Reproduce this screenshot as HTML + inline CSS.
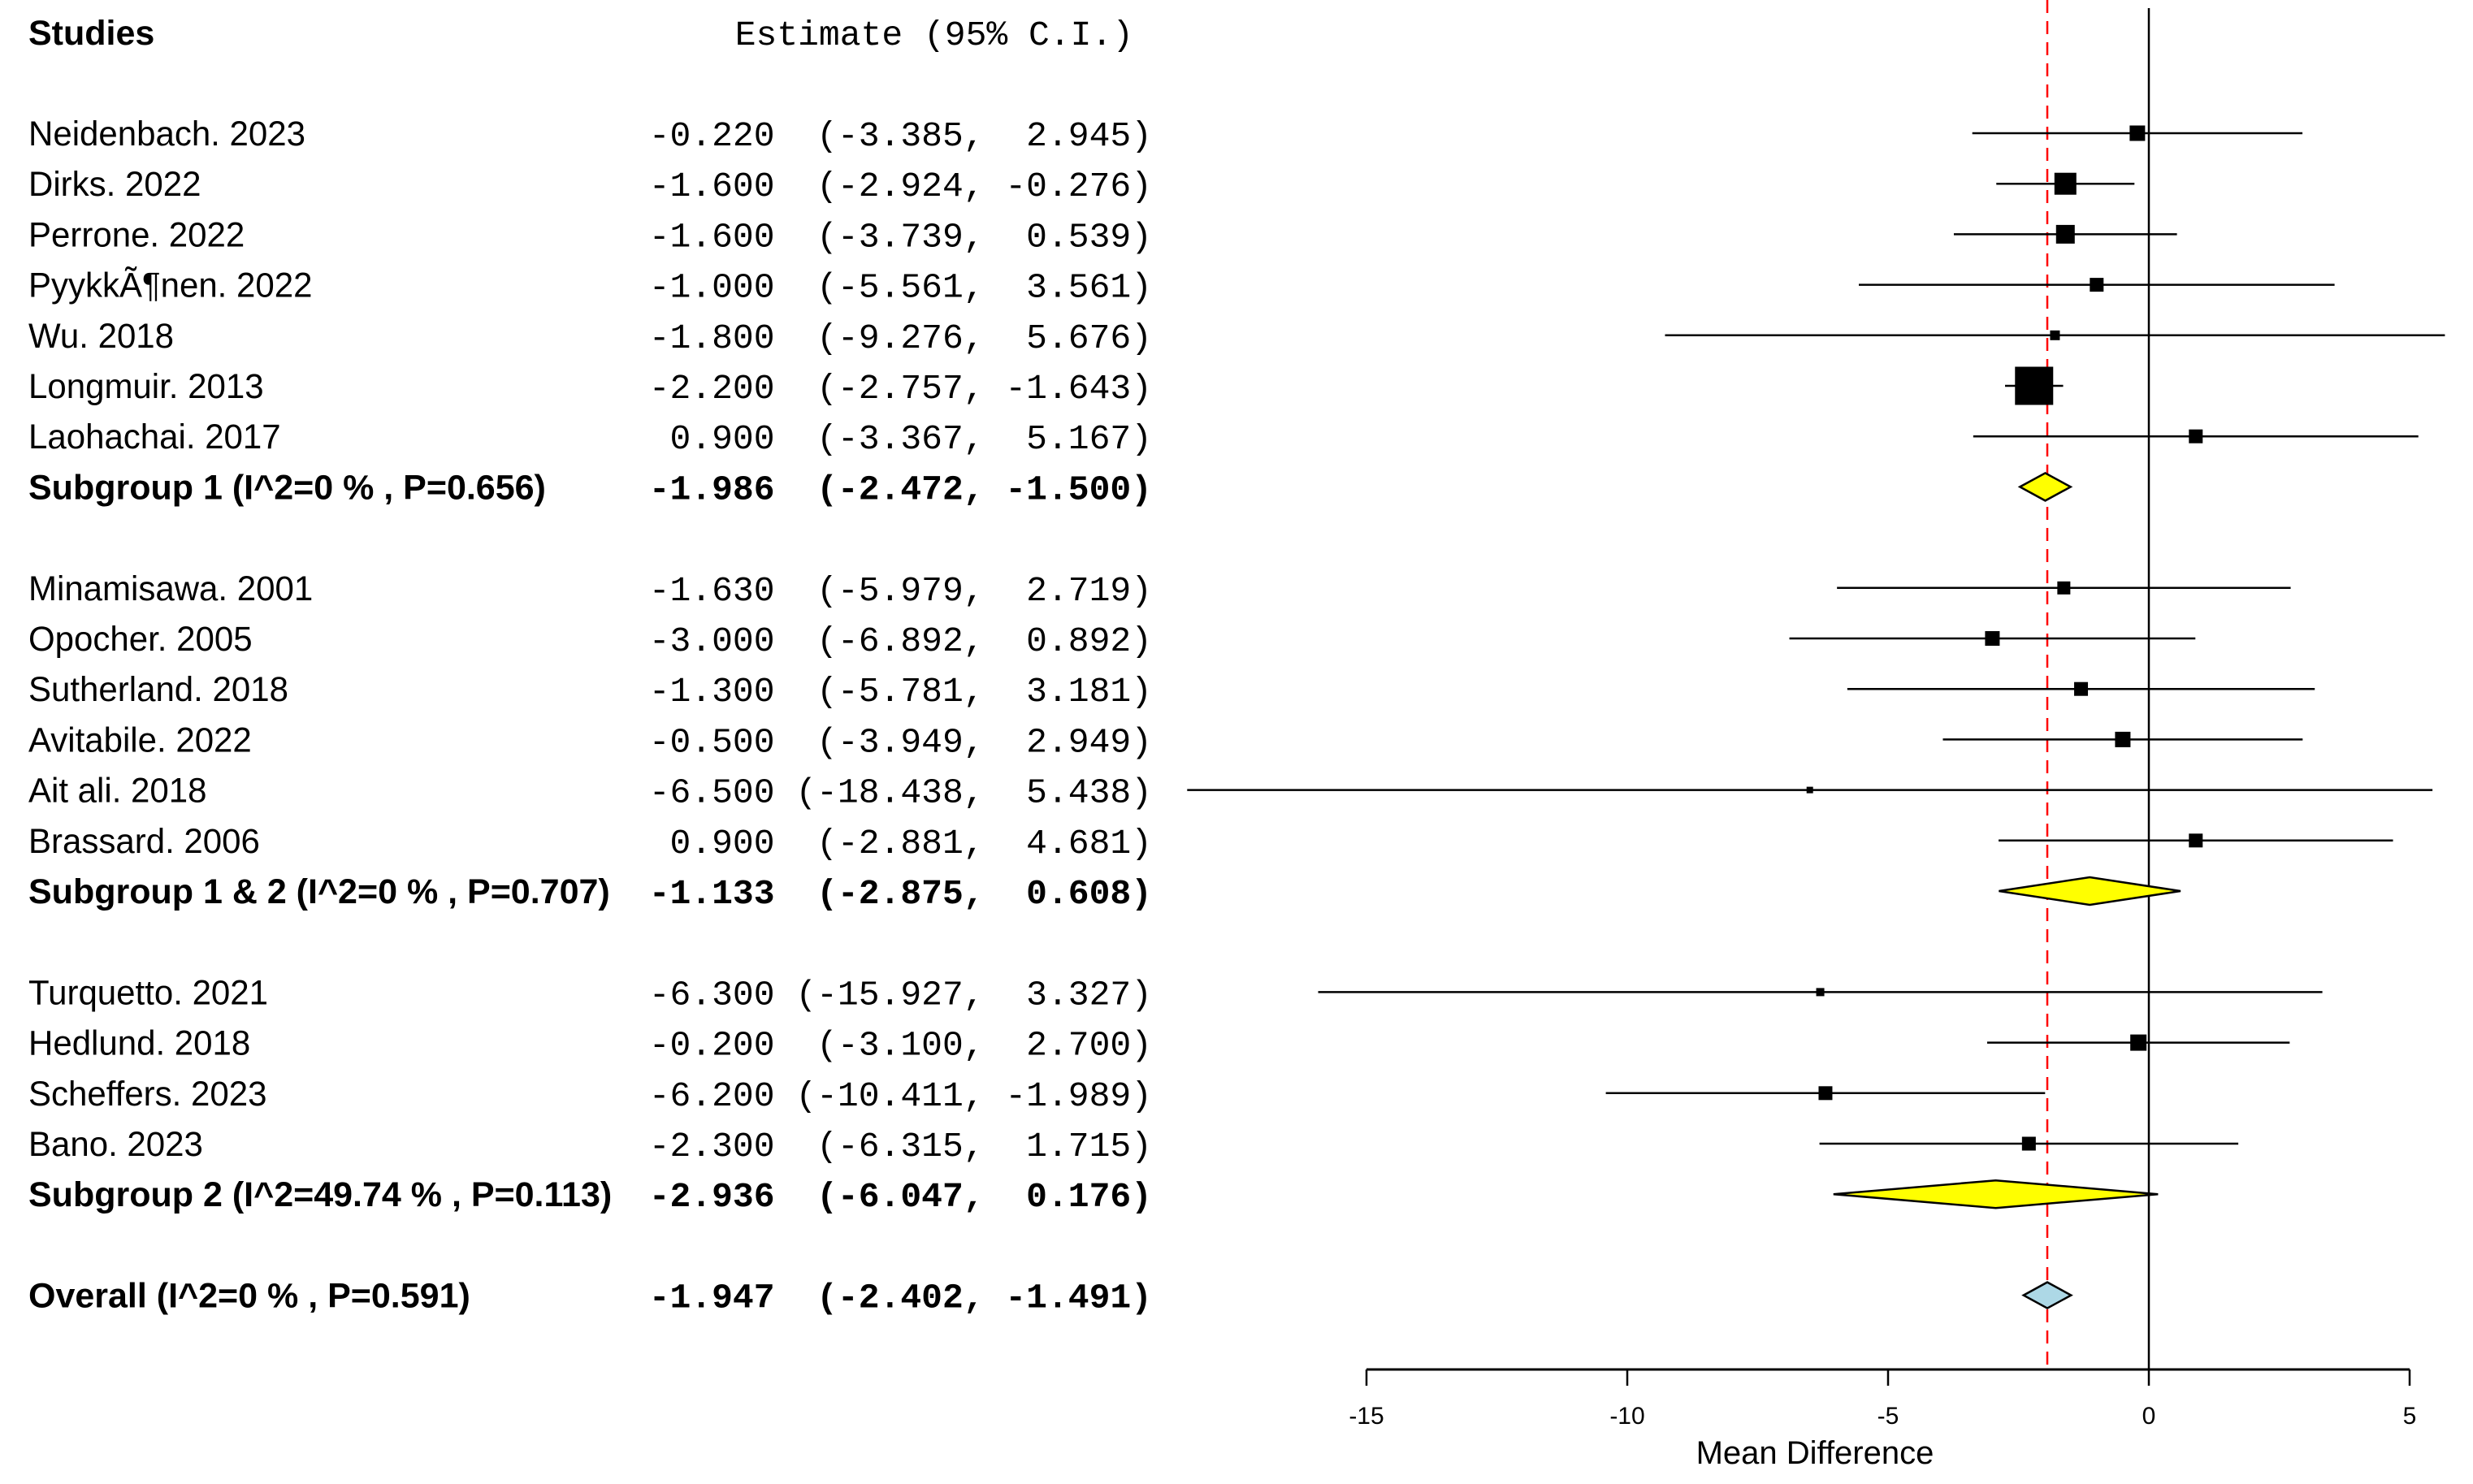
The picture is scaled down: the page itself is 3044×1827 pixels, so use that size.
<!DOCTYPE html>
<html><head><meta charset="utf-8"><style>
html,body{margin:0;padding:0;background:#fff;}
svg{display:block;}
.nm{font-family:"Liberation Sans",sans-serif;font-size:43px;fill:#000;}
.mo{font-family:"Liberation Mono",monospace;font-size:43px;fill:#000;white-space:pre;}
</style></head><body>
<svg id="plot" width="3044" height="1827" viewBox="0 0 3044 1827" xmlns="http://www.w3.org/2000/svg">
<g id="labels"></g>
<g id="marks"></g>
</svg>
<script>
const studyNames = ["Neidenbach. 2023","Dirks. 2022","Perrone. 2022","PyykkÃ¶nen. 2022","Wu. 2018","Longmuir. 2013","Laohachai. 2017","Subgroup 1 (I^2=0 % , P=0.656)","Minamisawa. 2001","Opocher. 2005","Sutherland. 2018","Avitabile. 2022","Ait ali. 2018","Brassard. 2006","Subgroup 1 & 2 (I^2=0 % , P=0.707)","Turquetto. 2021","Hedlund. 2018","Scheffers. 2023","Bano. 2023","Subgroup 2 (I^2=49.74 % , P=0.113)","Overall (I^2=0 % , P=0.591)"];
const rowSlots = [0,1,2,3,4,5,6,7,9,10,11,12,13,14,15,17,18,19,20,21,23];
const estimates = [-0.22,-1.6,-1.6,-1.0,-1.8,-2.2,0.9,-1.986,-1.63,-3.0,-1.3,-0.5,-6.5,0.9,-1.133,-6.3,-0.2,-6.2,-2.3,-2.936,-1.947];
const lowers = [-3.385,-2.924,-3.739,-5.561,-9.276,-2.757,-3.367,-2.472,-5.979,-6.892,-5.781,-3.949,-18.438,-2.881,-2.875,-15.927,-3.1,-10.411,-6.315,-6.047,-2.402];
const uppers = [2.945,-0.276,0.539,3.561,5.676,-1.643,5.167,-1.5,2.719,0.892,3.181,2.949,5.438,4.681,0.608,3.327,2.7,-1.989,1.715,0.176,-1.491];
const rowKinds = ["s","s","s","s","s","s","s","sub","s","s","s","s","s","s","sub","s","s","s","s","sub","all"];
const weights = [19,27,23,17,12,47,17,0,16,18,17,19,8,17,0,10,20,17,17,0,0];
const xTicks = [-15,-10,-5,0,5];

const NS="http://www.w3.org/2000/svg";
const X0=2645, UNIT=64.2;
function xs(v){return X0+v*UNIT;}
function ys(slot){return 164+slot*62.2;}
const L=document.getElementById('labels'), M=document.getElementById('marks');
function mk(tag,attrs,parent,text){const e=document.createElementNS(NS,tag);for(const k in attrs)e.setAttribute(k,attrs[k]);if(text!==undefined)e.textContent=text;parent.appendChild(e);return e;}
function pad(s,w){while(s.length<w)s=" "+s;return s;}

let h=mk('text',{x:35,y:55,class:'nm','font-weight':'bold'},L,'Studies');


h=mk('text',{x:1395,y:55,class:'mo','text-anchor':'end'},L,'Estimate (95% C.I.)');



const axisY=1686;
let ln=mk('line',{x1:X0,x2:X0,y1:10,y2:axisY,stroke:'#000','stroke-width':2.5},M);


ln=mk('line',{x1:xs(estimates[20]),x2:xs(estimates[20]),y1:0,y2:axisY,stroke:'#f00','stroke-width':2.5,'stroke-dasharray':'16,10'},M);



for(let i=0;i<studyNames.length;i++){
  const y=ys(rowSlots[i]), bold=rowKinds[i]!=='s';
  const g=mk('g',{},L);
  
  
  const t=mk('text',{x:0,y:0,class:'nm','font-weight':bold?'bold':'normal',transform:`translate(35,${y+15}) scale(${bold?1.0:0.977},1)`},g,studyNames[i]);
  
  
  const s=pad(estimates[i].toFixed(3),6)+" "+pad("("+lowers[i].toFixed(3),8)+", "+pad(uppers[i].toFixed(3),6)+")";
  const t2=mk('text',{x:1418,y:y+15,class:'mo','text-anchor':'end','font-weight':bold?'bold':'normal'},g,s);
  
  

  const cx=xs(estimates[i]);
  if(rowKinds[i]==='s'){
    const c=mk('line',{x1:Math.max(xs(lowers[i]),1440),x2:Math.min(xs(uppers[i]),3030),y1:y,y2:y,stroke:'#000','stroke-width':2.5},M);
    
    
    const w=weights[i];
    const r=mk('rect',{x:cx-w/2,y:y-w/2,width:w,height:w,fill:'#000'},M);
    
    
  } else {
    const hh=rowKinds[i]==='all'?16:17;
    const p=mk('polygon',{points:`${xs(lowers[i])},${y} ${cx},${y-hh} ${xs(uppers[i])},${y} ${cx},${y+hh}`,fill:rowKinds[i]==='all'?'#add8e6':'#ffff00',stroke:'#000','stroke-width':2.5},M);
    
    
  }
}

ln=mk('line',{x1:xs(xTicks[0]),x2:xs(xTicks[xTicks.length-1]),y1:axisY,y2:axisY,stroke:'#000','stroke-width':3},M);


for(const v of xTicks){
  const tk=mk('line',{x1:xs(v),x2:xs(v),y1:axisY,y2:axisY+20,stroke:'#000','stroke-width':2.5},M);
  
  
  const tl=mk('text',{x:xs(v),y:1753,'text-anchor':'middle',class:'nm',style:'font-size:30px'},M,String(v));
  
  
}
const xt=mk('text',{x:2234,y:1802,'text-anchor':'middle',class:'nm',style:'font-size:40px'},M,'Mean Difference');


</script>
</body></html>
